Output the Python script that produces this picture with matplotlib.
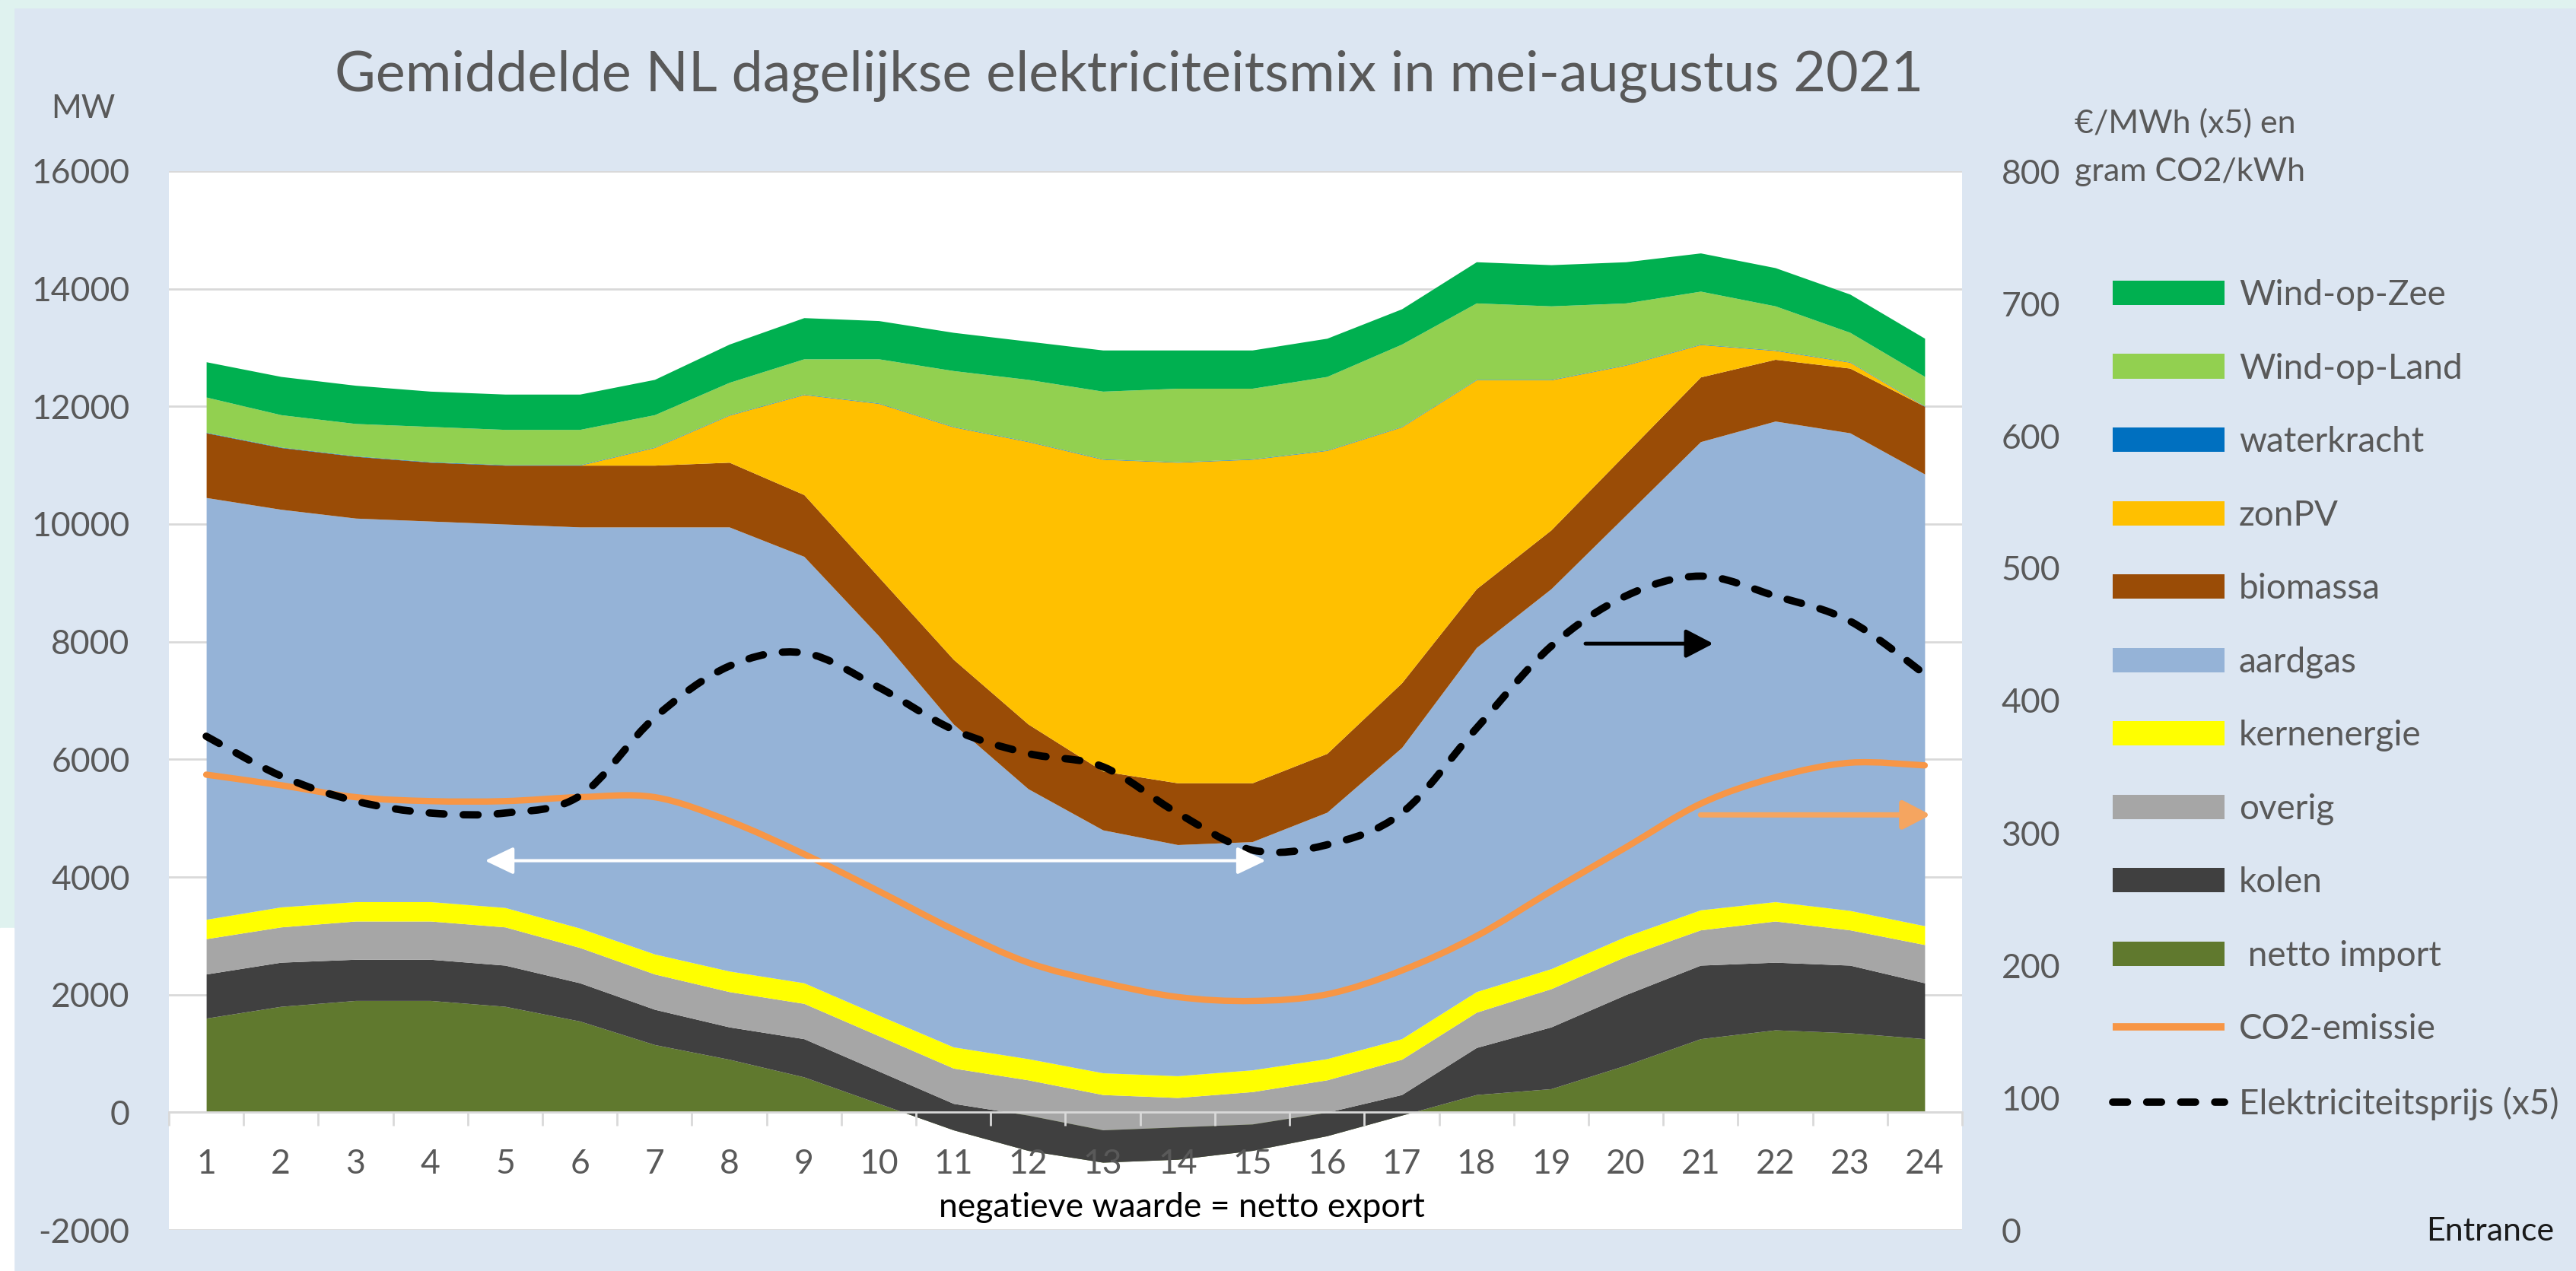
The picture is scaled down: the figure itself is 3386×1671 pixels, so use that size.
import matplotlib
matplotlib.use("Agg")
import matplotlib.pyplot as plt
from matplotlib.patches import Rectangle, Patch, PathPatch
from matplotlib.lines import Line2D
from matplotlib.path import Path
from matplotlib.ticker import FixedLocator, NullFormatter

plt.rcParams['font.family'] = ['Lato', 'DejaVu Sans']
plt.rcParams['axes.unicode_minus'] = False

# ---------------- data (MW, per hour of day) ----------------
hours = list(range(1, 25))
netto_import = [1600, 1800, 1900, 1900, 1800, 1550, 1150, 900, 600, 150, -300, -650,
                -850, -800, -650, -400, -50, 300, 400, 800, 1250, 1400, 1350, 1250]
kolen = [750, 750, 700, 700, 700, 650, 600, 550, 650, 550, 450, 600,
         550, 550, 450, 400, 350, 800, 1050, 1200, 1250, 1150, 1150, 950]
overig = [600, 600, 650, 650, 650, 600, 600, 600, 600, 600, 600, 600,
          600, 500, 550, 550, 600, 600, 650, 650, 600, 700, 600, 650]
kernenergie = [330, 340, 330, 330, 330, 330, 340, 350, 350, 350, 360, 360,
               370, 370, 370, 360, 350, 350, 340, 340, 340, 330, 330, 320]
aardgas = [7170, 6760, 6520, 6470, 6520, 6820, 7260, 7550, 7250, 6450, 5490, 4590,
           4130, 3930, 3880, 4190, 4950, 5850, 6460, 7160, 7960, 8170, 8120, 7680]
biomassa = [1100, 1050, 1050, 1000, 1000, 1050, 1050, 1100, 1050, 1000, 1100, 1100,
            1000, 1050, 1000, 1000, 1100, 1000, 1000, 1050, 1100, 1050, 1100, 1150]
zonPV = [0, 0, 0, 0, 0, 0, 300, 800, 1700, 2950, 3950, 4800,
         5300, 5450, 5500, 5150, 4350, 3550, 2550, 1500, 550, 150, 100, 0]
waterkracht = [8] * 24
wind_op_land = [600, 550, 550, 600, 600, 600, 550, 550, 600, 750, 950, 1050,
                1150, 1250, 1200, 1250, 1400, 1300, 1250, 1050, 900, 750, 500, 500]
wind_op_zee = [600, 650, 650, 600, 600, 600, 600, 650, 700, 650, 650, 650,
               700, 650, 650, 650, 600, 700, 700, 700, 650, 650, 650, 650]

# right axis: gram CO2/kWh and EUR/MWh x5
co2_emissie = [344, 336, 327, 324, 324, 327, 327, 309, 284, 256, 227, 202,
               187, 176, 173, 178, 196, 222, 256, 289, 322, 342, 353, 351]
prijs_x5 = [373, 343, 324, 315, 315, 328, 387, 426, 436, 410, 378, 360,
            350, 315, 287, 291, 315, 379, 441, 479, 494, 479, 460, 420]

left_ticks = [-2000, 0, 2000, 4000, 6000, 8000, 10000, 12000, 14000, 16000]
right_ticks = [0, 100, 200, 300, 400, 500, 600, 700, 800]

series = [
    (" netto import", netto_import, "#60792e"),
    ("kolen", kolen, "#404040"),
    ("overig", overig, "#a6a6a6"),
    ("kernenergie", kernenergie, "#ffff00"),
    ("aardgas", aardgas, "#95b3d7"),
    ("biomassa", biomassa, "#9a4c06"),
    ("zonPV", zonPV, "#ffc000"),
    ("waterkracht", waterkracht, "#0070c0"),
    ("Wind-op-Land", wind_op_land, "#92d050"),
    ("Wind-op-Zee", wind_op_zee, "#00b050"),
]


def smooth_path(xs, ys):
    """Excel-style smoothed line: Bezier segments through the data points."""
    n = len(xs)
    verts = [(xs[0], ys[0])]
    codes = [Path.MOVETO]
    for i in range(n - 1):
        x0, y0 = xs[max(i - 1, 0)], ys[max(i - 1, 0)]
        x1, y1 = xs[i], ys[i]
        x2, y2 = xs[i + 1], ys[i + 1]
        x3, y3 = xs[min(i + 2, n - 1)], ys[min(i + 2, n - 1)]
        c1 = (x1 + (x2 - x0) / 6.0, y1 + (y2 - y0) / 6.0)
        c2 = (x2 - (x3 - x1) / 6.0, y2 - (y3 - y1) / 6.0)
        verts += [c1, c2, (x2, y2)]
        codes += [Path.CURVE4] * 3
    return Path(verts, codes)


W, H = 3386, 1671
fig = plt.figure(figsize=(W / 100, H / 100), dpi=100)
fig.patch.set_facecolor("#dce6f2")
# light frame strips of the screenshot
fig.add_artist(Rectangle((0, 1 - 10 / H), 1, 10 / H, transform=fig.transFigure,
                         color="#dff2ef", zorder=-5))
fig.add_artist(Rectangle((0, 1 - 1220 / H), 18 / W, 1220 / H, transform=fig.transFigure,
                         color="#dff2ef", zorder=-5))
fig.add_artist(Rectangle((0, 0), 18 / W, 1 - 1220 / H, transform=fig.transFigure,
                         color="white", zorder=-5))

ax = fig.add_axes([222 / W, 1 - 1617 / H, (2579 - 222) / W, (1617 - 225) / H])
ax.set_facecolor("white")
ax.set_xlim(0.5, 24.5)
ax.set_ylim(-2000, 16000)

for yv in left_ticks:
    ax.axhline(yv, color="#d9d9d9", lw=2, zorder=0.5)

base = [0] * 24
for name, vals, col in series:
    top = [b + v for b, v in zip(base, vals)]
    ax.fill_between(hours, base, top, color=col, lw=0, zorder=1)
    base = top

# axes styling
for s in ["left", "right", "top"]:
    ax.spines[s].set_visible(False)
ax.spines["bottom"].set_position(("data", 0))
ax.spines["bottom"].set_color("#d9d9d9")
ax.spines["bottom"].set_linewidth(2)
ax.spines["bottom"].set_zorder(3)

ax.xaxis.set_major_locator(FixedLocator(hours))
ax.set_xticklabels([str(h) for h in hours])
ax.xaxis.set_minor_locator(FixedLocator([h + 0.5 for h in range(0, 25)]))
ax.xaxis.set_minor_formatter(NullFormatter())
ax.tick_params(axis="x", which="major", length=0, pad=34, labelsize=32, labelcolor="#595959")
ax.tick_params(axis="x", which="minor", length=13, width=2, color="#d9d9d9", direction="out")

ax.yaxis.set_major_locator(FixedLocator(left_ticks))
ax.set_yticklabels([str(t) for t in left_ticks])
ax.tick_params(axis="y", length=0, pad=37, labelsize=32, labelcolor="#595959")

ax2 = ax.twinx()
ax2.set_ylim(0, 800)
for s in ax2.spines.values():
    s.set_visible(False)
ax2.yaxis.set_major_locator(FixedLocator(right_ticks))
ax2.set_yticklabels([str(t) for t in right_ticks])
ax2.tick_params(axis="y", length=0, pad=37, labelsize=32, labelcolor="#595959")

co2_patch = PathPatch(smooth_path(hours, co2_emissie), fill=False, edgecolor="#f79646",
                      lw=6, capstyle="round", joinstyle="round", zorder=3)
ax2.add_patch(co2_patch)
price_patch = PathPatch(smooth_path(hours, prijs_x5), fill=False, edgecolor="black",
                        lw=7, linestyle=(0, (2.0, 2.6)), capstyle="round",
                        joinstyle="round", zorder=4)
ax2.add_patch(price_patch)

# annotation arrows (in right-axis units)
ax2.annotate("", xy=(15.18, 279), xytext=(4.73, 279),
             arrowprops=dict(arrowstyle="<|-|>,head_length=23,head_width=11",
                             mutation_scale=1, color="white", lw=3, shrinkA=0, shrinkB=0),
             zorder=5)
ax2.annotate("", xy=(21.17, 443), xytext=(19.46, 443),
             arrowprops=dict(arrowstyle="-|>,head_length=22,head_width=11.5",
                             mutation_scale=1, color="black", lw=3.6, shrinkA=0, shrinkB=0),
             zorder=5)
ax2.annotate("", xy=(24.08, 313.6), xytext=(21.0, 313.6),
             arrowprops=dict(arrowstyle="-|>,head_length=22,head_width=11.5",
                             mutation_scale=1, color="#f5a560", lw=5, shrinkA=0, shrinkB=0),
             zorder=5)

# texts
fig.text(1484 / W, 1 - 100 / H, "Gemiddelde NL dagelijkse elektriciteitsmix in mei-augustus 2021",
         ha="center", va="center", fontsize=53, color="#595959")
fig.text(109 / W, 1 - 143 / H, "MW", ha="center", va="center", fontsize=31, color="#595959")
fig.text(2727 / W, 1 - 162 / H, "€/MWh (x5) en", ha="left", va="center", fontsize=31,
         color="#595959")
fig.text(2727 / W, 1 - 226 / H, "gram CO2/kWh", ha="left", va="center", fontsize=31,
         color="#595959")
ax.text((1553 - 222) / (2579 - 222), (1617 - 1588) / (1617 - 225),
        "negatieve waarde = netto export", transform=ax.transAxes,
        ha="center", va="center", fontsize=32, color="black", zorder=6)
fig.text(3189 / W, 1 - 1619 / H, "Entrance", ha="left", va="center", fontsize=31,
         color="#1a1a1a")

# legend
handles = []
labels = []
for name, vals, col in reversed(series):
    handles.append(Patch(facecolor=col, edgecolor="none"))
    labels.append(name)
handles.append(Line2D([], [], color="#f79646", lw=7, solid_capstyle="butt"))
labels.append("CO2-emissie")
handles.append(Line2D([], [], color="black", lw=7, linestyle=(0, (2.0, 2.6)),
                      dash_capstyle="round"))
labels.append("Elektriciteitsprijs (x5)")
fig.legend(handles, labels, loc="upper left", bbox_to_anchor=(2777 / W, 1 - 367 / H),
           frameon=False, fontsize=33, labelcolor="#595959",
           handlelength=3.2, handleheight=0.7, handletextpad=0.42,
           labelspacing=1.19, borderpad=0, borderaxespad=0)

fig.savefig("out.png", dpi=100, facecolor=fig.get_facecolor())
